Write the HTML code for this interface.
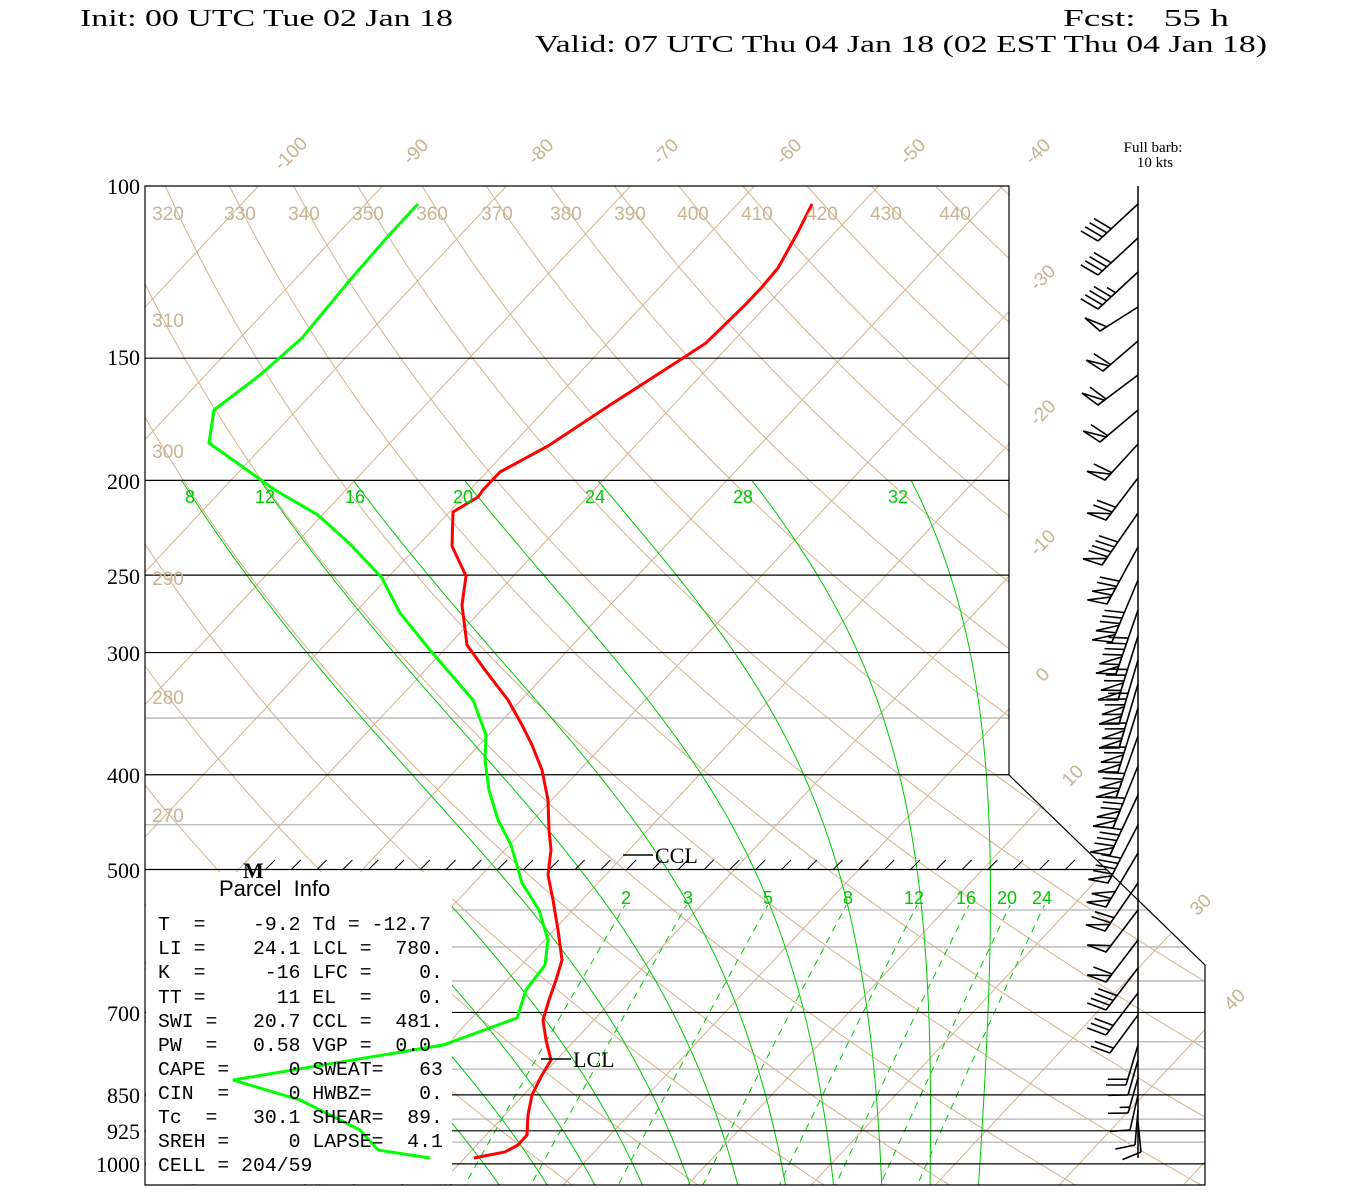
<!DOCTYPE html>
<html><head><meta charset="utf-8">
<style>
html,body{margin:0;padding:0;background:#fff;}
svg{display:block;}
.hd{font-family:"Liberation Serif",serif;font-size:24px;fill:#000;}
.pl{font-family:"Liberation Serif",serif;font-size:22px;fill:#000;}
.tn{font-family:"Liberation Sans",sans-serif;font-size:19px;fill:#c8b491;}
.gn{font-family:"Liberation Sans",sans-serif;font-size:18px;fill:#00c800;}
.pi{font-family:"Liberation Mono",monospace;font-size:19.8px;fill:#000;}
</style></head>
<body>
<svg id="s" width="1350" height="1200" viewBox="0 0 1350 1200" xmlns="http://www.w3.org/2000/svg">
<defs>
<clipPath id="cp"><polygon points="145,186 1009,186 1009,775 1205,965 1205,1185 145,1185"/></clipPath>
<clipPath id="cpm"><polygon points="145,481 1009,481 1009,775 1205,965 1205,1185 145,1185"/></clipPath>
<clipPath id="cpw"><polygon points="145,905 1205,905 1205,1185 145,1185"/></clipPath>
</defs>
<g id="tan" clip-path="url(#cp)" fill="none" stroke="#d2b48c" stroke-width="1"></g>
<g id="grey" stroke="#b4b4b4" stroke-width="1.3"></g>
<g id="moist" clip-path="url(#cpm)" fill="none" stroke="#00c800" stroke-width="1"></g>
<g id="moist2" clip-path="url(#cpw)" fill="none" stroke="#00c800" stroke-width="1"></g>
<g id="mix" clip-path="url(#cpw)" fill="none" stroke="#00c800" stroke-width="1" stroke-dasharray="7,6"></g>
<g id="blk" stroke="#000" stroke-width="1.2"></g>
<polygon points="145,186 1009,186 1009,775 1205,965 1205,1185 145,1185" fill="none" stroke="#000" stroke-width="1.2"/>
<rect x="146" y="872" width="306" height="312" fill="#fff"/>
<g id="hatch" stroke="#000" stroke-width="1"></g>
<g id="barbs" stroke="#000" stroke-width="1.6" fill="none"></g>
<line x1="1138" y1="186" x2="1138" y2="1158" stroke="#000" stroke-width="1.5"/>

<polyline fill="none" stroke="#ff0000" stroke-width="3" points="812,204 798,232 778,268 762,287 745,305 706,343 680,360 610,405 548,446 500,472 483,490 478,497 453,512 452,546 466,576 462,605 467,645 485,670 508,700 522,725 532,745 542,770 548,800 549,830 551,850 548,875 553,900 558,930 562,960 556,980 549,1000 543,1020 546,1040 551,1060 542,1075 532,1095 528,1115 527,1135 518,1145 505,1152 474,1158"/>
<polyline fill="none" stroke="#00ff00" stroke-width="3" points="418,204 390,234 350,280 302,338 260,375 214,410 209,443 240,465 275,490 318,515 351,545 382,578 400,613 430,650 473,700 486,735 485,760 489,790 498,820 511,845 522,883 539,910 548,940 545,965 526,990 517,1018 443,1045 233,1080 300,1100 360,1130 378,1150 430,1158"/>

<line x1="541" y1="1059" x2="571" y2="1059" stroke="#000" stroke-width="1.5"/>
<text x="573" y="1067" class="pl" font-size="21">LCL</text>
<line x1="623" y1="855" x2="653" y2="855" stroke="#000" stroke-width="1.5"/>
<text x="655" y="863" class="pl" font-size="21">CCL</text>
<text x="243" y="878" class="pl" font-size="18" font-weight="bold">M</text>

<text x="80" y="26" class="hd" textLength="373" lengthAdjust="spacingAndGlyphs">Init: 00 UTC Tue 02 Jan 18</text>
<text x="1063" y="26" class="hd" xml:space="preserve" textLength="166" lengthAdjust="spacingAndGlyphs">Fcst:   55 h</text>
<text x="535" y="52" class="hd" textLength="732" lengthAdjust="spacingAndGlyphs">Valid: 07 UTC Thu 04 Jan 18 (02 EST Thu 04 Jan 18)</text>
<text x="1153" y="152" text-anchor="middle" font-family="Liberation Serif,serif" font-size="15">Full barb:</text>
<text x="1155" y="167" text-anchor="middle" font-family="Liberation Serif,serif" font-size="15">10 kts</text>

<g class="pl" text-anchor="end">
<text x="140" y="194">100</text><text x="140" y="365">150</text><text x="140" y="489">200</text>
<text x="140" y="584">250</text><text x="140" y="661">300</text><text x="140" y="783">400</text>
<text x="140" y="878">500</text><text x="140" y="1021">700</text><text x="140" y="1103">850</text>
<text x="140" y="1139">925</text><text x="140" y="1172">1000</text>
</g>

<g class="tn" text-anchor="middle">
<text x="168" y="220">320</text><text x="240" y="220">330</text><text x="304" y="220">340</text>
<text x="368" y="220">350</text><text x="432" y="220">360</text><text x="497" y="220">370</text>
<text x="566" y="220">380</text><text x="630" y="220">390</text><text x="693" y="220">400</text>
<text x="757" y="220">410</text><text x="822" y="220">420</text><text x="886" y="220">430</text>
<text x="955" y="220">440</text>
<text x="168" y="327">310</text><text x="168" y="458">300</text><text x="168" y="585">290</text>
<text x="168" y="704">280</text><text x="168" y="822">270</text>
</g>
<g class="tn" font-size="21" text-anchor="middle">
<text transform="translate(295,158) rotate(-45)">-100</text>
<text transform="translate(420,156) rotate(-45)">-90</text>
<text transform="translate(545,156) rotate(-45)">-80</text>
<text transform="translate(670,156) rotate(-45)">-70</text>
<text transform="translate(793,156) rotate(-45)">-60</text>
<text transform="translate(917,156) rotate(-45)">-50</text>
<text transform="translate(1042,156) rotate(-45)">-40</text>
<text transform="translate(1047,282) rotate(-45)">-30</text>
<text transform="translate(1047,417) rotate(-45)">-20</text>
<text transform="translate(1047,547) rotate(-45)">-10</text>
<text transform="translate(1047,679) rotate(-45)">0</text>
<text transform="translate(1077,780) rotate(-45)">10</text>
<text transform="translate(1205,909) rotate(-45)">30</text>
<text transform="translate(1239,1004) rotate(-45)">40</text>
</g>
<g class="gn" text-anchor="middle">
<text x="190" y="503">8</text><text x="265" y="503">12</text><text x="355" y="503">16</text>
<text x="463" y="503">20</text><text x="595" y="503">24</text><text x="743" y="503">28</text>
<text x="898" y="503">32</text>
<text x="626" y="904">2</text><text x="688" y="904">3</text><text x="768" y="904">5</text>
<text x="848" y="904">8</text><text x="914" y="904">12</text><text x="966" y="904">16</text>
<text x="1007" y="904">20</text><text x="1042" y="904">24</text>
</g>

<text x="219" y="896" font-family="Liberation Sans,sans-serif" font-size="22" xml:space="preserve">Parcel  Info</text>
<g class="pi">
<text x="158" y="930" xml:space="preserve">T  =    -9.2 Td = -12.7</text>
<text x="158" y="954" xml:space="preserve">LI =    24.1 LCL =  780.</text>
<text x="158" y="978" xml:space="preserve">K  =     -16 LFC =    0.</text>
<text x="158" y="1003" xml:space="preserve">TT =      11 EL  =    0.</text>
<text x="158" y="1027" xml:space="preserve">SWI =   20.7 CCL =  481.</text>
<text x="158" y="1051" xml:space="preserve">PW  =   0.58 VGP =  0.0</text>
<text x="158" y="1075" xml:space="preserve">CAPE =     0 SWEAT=   63</text>
<text x="158" y="1099" xml:space="preserve">CIN  =     0 HWBZ=    0.</text>
<text x="158" y="1123" xml:space="preserve">Tc  =   30.1 SHEAR=  89.</text>
<text x="158" y="1147" xml:space="preserve">SREH =     0 LAPSE=  4.1</text>
<text x="158" y="1171" xml:space="preserve">CELL = 204/59</text>
</g>
</svg>
<script>
(function(){
var NS="http://www.w3.org/2000/svg";
function Y(p){return 186+424.7*Math.log(p/100);}
function X(T,y){return 583+12.4*T+0.936*(1164-y);}
function el(g,tag,a){var e=document.createElementNS(NS,tag);for(var k in a)e.setAttribute(k,a[k]);document.getElementById(g).appendChild(e);return e;}
function pl(g,pts){el(g,"polyline",{points:pts.map(function(q){return q[0].toFixed(1)+","+q[1].toFixed(1)}).join(" ")});}
for(var T=-150;T<=60;T+=10){pl("tan",[[X(T,120),120],[X(T,1200),1200]]);}
for(var th=230;th<=460;th+=10){var pts=[];for(var p=60;p<=1060;p+=10){var y=Y(p);var t=th*Math.pow(p/1000,0.286)-273.15;pts.push([X(t,y),y]);}pl("tan",pts);}
function hl(g,p,x2){var y=Y(p);el(g,"line",{x1:145,y1:y,x2:x2,y2:y});}
[150,200,250,300,400].forEach(function(p){hl("blk",p,1009);});
hl("blk",500,1107);
[700,850,925,1000].forEach(function(p){hl("blk",p,1205);});
function dx(y){if(y<=775)return 1009;if(y>=965)return 1205;return 1009+(y-775)*196/190;}
[550,600,650,750,800,900,950].forEach(function(p){var y=Y(p);el("grey","line",{x1:452,y1:y,x2:dx(y),y2:y});});
el("grey","line",{x1:145,y1:Y(350),x2:1009,y2:Y(350)});
el("grey","line",{x1:145,y1:Y(450),x2:dx(Y(450)),y2:Y(450)});
function es(t){return 6.112*Math.exp(17.67*t/(t+243.5));}
function lapse(T,p){var t=T-273.15;var e=es(t);var rs=0.622*e/(p-e);var Rd=287,cp=1004,L=2.5e6;return (Rd*T+L*rs)/(cp+L*L*rs*0.622/(Rd*T*T));}
function moist(g,tw){
 var T=tw+273.15;var up=[];var Tk=T;for(var pp=1000;pp>=190;pp-=2){up.push([pp,Tk]);Tk-=lapse(Tk,pp)*(2/pp);}
 var dn=[];Tk=T;for(var pp=1000;pp<=1070;pp+=2){dn.push([pp,Tk]);Tk+=lapse(Tk,pp)*(2/pp);}
 var pts=[];up.reverse().concat(dn.slice(1)).forEach(function(q){var y=Y(q[0]);pts.push([X(q[1]-273.15,y),y]);});pl(g,pts);
}
for(var tw=8;tw<=32;tw+=4)moist("moist",tw);
for(var tw=-24;tw<=4;tw+=4)moist("moist2",tw);
[2,3,5,8,12,16,20,24].forEach(function(w){var pts=[];for(var p=540;p<=1070;p+=10){var e=w*p/(622+w);var l=Math.log(e/6.112);var td=243.5*l/(17.67-l);var y=Y(p);pts.push([X(td,y),y]);}pl("mix",pts);});
for(var x=265;x<=1090;x+=25.8){el("hatch","line",{x1:x,y1:870,x2:x+10,y2:860});}
// [y, dx, dy, flags, full, half]
var B=[[204,-40,37,0,4,0],[238,-40,37,0,4,0],[272,-40,37,0,4,1],[307,-38,24,1,0,0],[341,-35,30,1,1,0],[375,-40,30,1,1,0],[410,-38,32,1,1,0],[444,-33,36,1,1,0],[478,-32,42,1,2,0],[513,-36,52,1,4,0],[547,-31,57,2,2,0],[580,-26,62,2,3,0],[610,-22,64,2,4,0],[636,-20,64,2,3,0],[660,-19,64,2,3,0],[684,-19,64,2,2,0],[708,-20,64,2,2,0],[736,-22,62,2,2,0],[766,-25,62,2,3,0],[795,-28,60,1,4,0],[825,-30,58,1,4,0],[853,-32,54,2,0,0],[883,-33,48,1,2,0],[910,-32,42,1,0,0],[940,-32,42,1,1,0],[968,-32,42,0,4,0],[993,-32,42,0,3,0],[1015,-28,38,0,2,0],[1045,-12,40,0,2,0],[1060,-10,35,0,1,0],[1078,-10,35,0,1,1],[1095,-8,35,0,1,0],[1110,-3,35,0,1,0],[1122,3,30,0,1,0]];
B.forEach(function(b){
 var x0=1138,y0=b[0],x1=x0+b[1],y1=y0+b[2];var L=Math.hypot(b[1],b[2]);var ux=b[1]/L,uy=b[2]/L;
 var px=-uy,py=ux; if(px>0){px=-px;py=-py;}
 var tx=px+0.3*ux,ty=py+0.3*uy;var tl=Math.hypot(tx,ty);tx/=tl;ty/=tl;
 el("barbs","line",{x1:x0,y1:y0,x2:x1,y2:y1});
 var pos=0;var bl=20;
 for(var i=0;i<b[3];i++){var ax=x1-ux*pos,ay=y1-uy*pos;var cx=x1-ux*(pos+8),cy=y1-uy*(pos+8);
  el("barbs","polygon",{points:ax+","+ay+" "+(ax+tx*bl)+","+(ay+ty*bl)+" "+cx+","+cy});pos+=10;}
 for(var i=0;i<b[4];i++){var ax=x1-ux*pos,ay=y1-uy*pos;el("barbs","line",{x1:ax,y1:ay,x2:ax+tx*bl,y2:ay+ty*bl});pos+=6;}
 for(var i=0;i<b[5];i++){var ax=x1-ux*pos,ay=y1-uy*pos;el("barbs","line",{x1:ax,y1:ay,x2:ax+tx*bl/2,y2:ay+ty*bl/2});pos+=6;}
});
})();
</script>
</body></html>
